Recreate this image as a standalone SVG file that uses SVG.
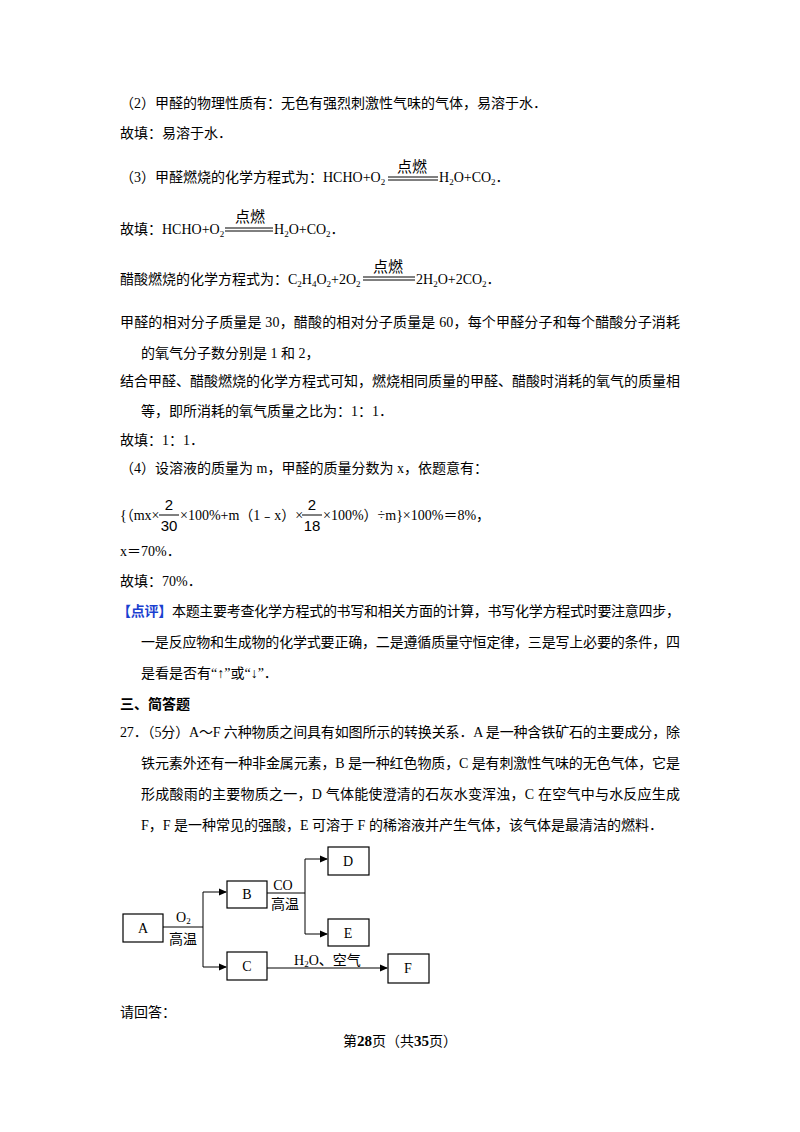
<svg xmlns="http://www.w3.org/2000/svg" width="800" height="1132" viewBox="0 0 800 1132">
<style>
text{font-family:"Liberation Serif","Noto Sans CJK SC",serif;font-size:14px;fill:#000}
.s{font-size:9px}
.b{font-weight:bold}
.ln{stroke:#000;stroke-width:1;fill:none}
.bx{stroke:#000;stroke-width:1.2;fill:#fff}
.f{font-family:"Liberation Sans","Noto Sans CJK SC",sans-serif;font-size:15px}
</style>
<defs><marker id="ar" markerWidth="8" markerHeight="8" refX="7" refY="4" orient="auto" markerUnits="userSpaceOnUse"><path d="M0,0.5 L8,4 L0,7.5Z" fill="#000"/></marker></defs>
<rect width="800" height="1132" fill="#fff"/>
<text x="120" y="108">（2）甲醛的物理性质有：无色有强烈刺激性气味的气体，易溶于水．</text>
<text x="120" y="138">故填：易溶于水．</text>
<text x="120" y="182">（3）甲醛燃烧的化学方程式为：HCHO+O<tspan class="s" dy="3">2</tspan></text>
<text x="412" y="172" text-anchor="middle" class="f">点燃</text>
<path class="ln" d="M388,177H438M388,180H438"/>
<text x="439" y="182">H<tspan class="s" dy="3">2</tspan><tspan dy="-3">O+CO</tspan><tspan class="s" dy="3">2</tspan><tspan dy="-3">．</tspan></text>
<text x="120" y="234">故填：HCHO+O<tspan class="s" dy="3">2</tspan></text>
<text x="250" y="222" text-anchor="middle" class="f">点燃</text>
<path class="ln" d="M225,228H273M225,231H273"/>
<text x="274" y="234">H<tspan class="s" dy="3">2</tspan><tspan dy="-3">O+CO</tspan><tspan class="s" dy="3">2</tspan><tspan dy="-3">．</tspan></text>
<text x="120" y="284">醋酸燃烧的化学方程式为：C<tspan class="s" dy="3">2</tspan><tspan dy="-3">H</tspan><tspan class="s" dy="3">4</tspan><tspan dy="-3">O</tspan><tspan class="s" dy="3">2</tspan><tspan dy="-3">+2O</tspan><tspan class="s" dy="3">2</tspan></text>
<text x="388" y="272" text-anchor="middle" class="f">点燃</text>
<path class="ln" d="M363,277H415M363,280H415"/>
<text x="416" y="284">2H<tspan class="s" dy="3">2</tspan><tspan dy="-3">O+2CO</tspan><tspan class="s" dy="3">2</tspan><tspan dy="-3">．</tspan></text>
<text x="120" y="327" textLength="560">甲醛的相对分子质量是 30，醋酸的相对分子质量是 60，每个甲醛分子和每个醋酸分子消耗</text>
<text x="141" y="358">的氧气分子数分别是 1 和 2，</text>
<text x="120" y="386" textLength="560">结合甲醛、醋酸燃烧的化学方程式可知，燃烧相同质量的甲醛、醋酸时消耗的氧气的质量相</text>
<text x="141" y="416">等，即所消耗的氧气质量之比为：1：1．</text>
<text x="120" y="445">故填：1：1．</text>
<text x="120" y="473">（4）设溶液的质量为 m，甲醛的质量分数为 x，依题意有：</text>
<text x="120" y="520">{（mx×</text>
<text x="169" y="510" text-anchor="middle" class="f">2</text>
<path class="ln" d="M159,515H179"/>
<text x="169" y="531" text-anchor="middle" class="f">30</text>
<text x="180" y="520">×100%+m（1﹣x）×</text>
<text x="312" y="510" text-anchor="middle" class="f">2</text>
<path class="ln" d="M302,515H322"/>
<text x="312" y="531" text-anchor="middle" class="f">18</text>
<text x="323" y="520">×100%）÷m}×100%＝8%，</text>
<text x="120" y="556">x＝70%．</text>
<text x="120" y="586">故填：70%．</text>
<text x="117" y="616" textLength="563"><tspan fill="#1a3fd0" class="b">【点评】</tspan>本题主要考查化学方程式的书写和相关方面的计算，书写化学方程式时要注意四步，</text>
<text x="141" y="647" textLength="539">一是反应物和生成物的化学式要正确，二是遵循质量守恒定律，三是写上必要的条件，四</text>
<text x="141" y="678">是看是否有“↑”或“↓”．</text>
<text x="120" y="709" class="b">三、简答题</text>
<text x="120" y="737" textLength="560">27．（5分）A～F 六种物质之间具有如图所示的转换关系．A 是一种含铁矿石的主要成分，除</text>
<text x="141" y="768" textLength="539">铁元素外还有一种非金属元素，B 是一种红色物质，C 是有刺激性气味的无色气体，它是</text>
<text x="141" y="799" textLength="539">形成酸雨的主要物质之一，D 气体能使澄清的石灰水变浑浊，C 在空气中与水反应生成</text>
<text x="141" y="830">F，F 是一种常见的强酸，E 可溶于 F 的稀溶液并产生气体，该气体是最清洁的燃料．</text>
<g id="connectors">
<path class="ln" d="M163,927H203M203,892V967"/>
<path class="ln" d="M203,892H226" marker-end="url(#ar)"/>
<path class="ln" d="M203,967H226" marker-end="url(#ar)"/>
<path class="ln" d="M267,893H305M305,859V934"/>
<path class="ln" d="M305,859H327" marker-end="url(#ar)"/>
<path class="ln" d="M305,934H327" marker-end="url(#ar)"/>
<path class="ln" d="M267,968H387" marker-end="url(#ar)"/>
<text x="176" y="922" font-size="13">O<tspan class="s" dy="2">2</tspan></text>
<text x="183" y="944" text-anchor="middle">高温</text>
<text x="283" y="890" text-anchor="middle" font-size="13">CO</text>
<text x="285" y="909" text-anchor="middle">高温</text>
<text x="294" y="965" font-size="13">H<tspan class="s" dy="2">2</tspan><tspan dy="-2">O、空气</tspan></text>
</g>
<g id="A"><rect class="bx" x="123" y="914" width="40" height="28"/><text x="143" y="933" text-anchor="middle">A</text></g>
<g id="B"><rect class="bx" x="227" y="881" width="40" height="27"/><text x="247" y="899" text-anchor="middle">B</text></g>
<g id="C"><rect class="bx" x="227" y="952" width="40" height="28"/><text x="247" y="971" text-anchor="middle">C</text></g>
<g id="D"><rect class="bx" x="328" y="847" width="41" height="28"/><text x="348" y="866" text-anchor="middle">D</text></g>
<g id="E"><rect class="bx" x="328" y="919" width="41" height="27"/><text x="348" y="938" text-anchor="middle">E</text></g>
<g id="F"><rect class="bx" x="388" y="954" width="41" height="29"/><text x="408" y="973" text-anchor="middle">F</text></g>
<text x="120" y="1017">请回答：</text>
<text x="400" y="1046" text-anchor="middle" font-size="12">第<tspan class="b" font-size="15">28</tspan>页（共<tspan class="b" font-size="15">35</tspan>页）</text>
</svg>
